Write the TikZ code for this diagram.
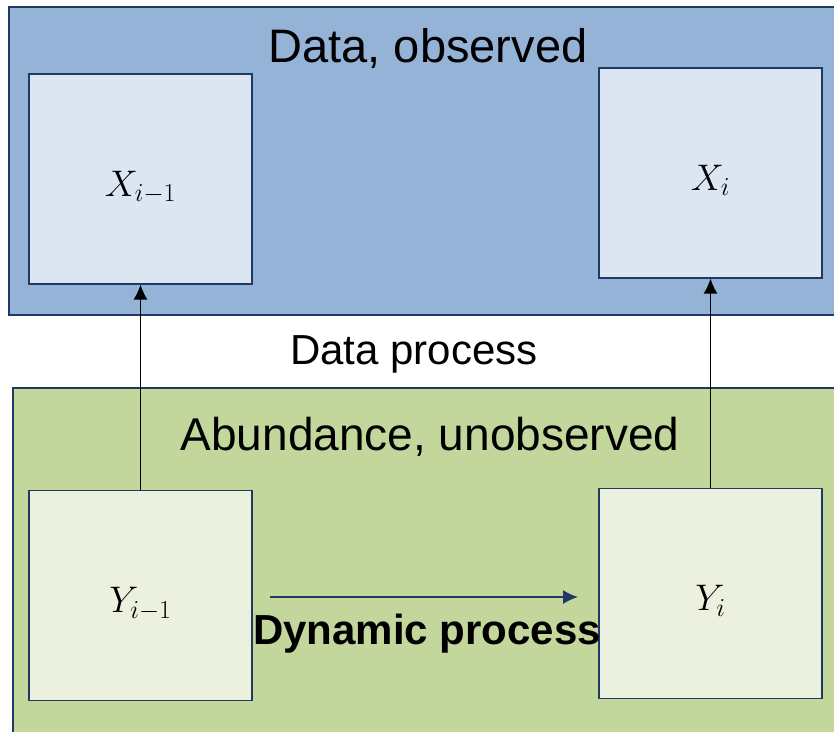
\RequirePackage{fix-cm}
\documentclass[tikz,border=0pt]{standalone}
\usepackage{fontspec}
\setmainfont{Liberation Sans}
\usetikzlibrary{positioning, arrows.meta}

\definecolor{dataFill}{HTML}{95B3D7}
\definecolor{dataBox}{HTML}{DCE6F2}
\definecolor{abunFill}{HTML}{C3D69B}
\definecolor{abunBox}{HTML}{EBF1DE}
\definecolor{edgeBlue}{HTML}{1F3864}

\newcommand{\stateLabel}[1]{\raisebox{-17pt}[0pt][0pt]{$#1$}}

\begin{document}
\begin{tikzpicture}[x=1pt, y=-1pt,
    % --- Styles ---
    layerRect/.style={
      draw=edgeBlue,
      line width=1.2pt
    },
    stateBox/.style={
      draw=edgeBlue,
      rectangle,
      line width=1.2pt,
      minimum width=223pt,
      minimum height=210pt,
      inner sep=0pt,
      font=\fontsize{37}{40}\selectfont
    },
    titleText/.style={
      font=\fontsize{47}{50}\selectfont
    },
    linkArrow/.style={
      line width=1.3pt,
      arrows={-Latex[length=15pt, width=14pt]}
    }
]
\useasboundingbox (0,0) rectangle (834,731);

%=====================
% Layer 1: data, observed
%=====================
\fill[dataFill] (9,7) rectangle (850,315);
\draw[layerRect] (850,7) -- (9,7) -- (9,315) -- (850,315);
\node[titleText] (dataTitle) at (428,48) {Data, observed};
\node[stateBox, fill=dataBox] (xPrev) at (140.5,179) {\stateLabel{X_{i-1}}};
\node[stateBox, fill=dataBox] (xCur) at (710.5,173) {\stateLabel{X_i}};

%=====================
% Layer 2: abundance, unobserved
%=====================
\fill[abunFill] (13,388) rectangle (850,750);
\draw[layerRect] (850,388) -- (13,388) -- (13,750);
\node[titleText, font=\fontsize{46}{50}\selectfont] (abunTitle) at (430,437) {Abundance, unobserved};
\node[stateBox, fill=abunBox] (yPrev) at (140.5,595.5) {\stateLabel{Y_{i-1}}};
\node[stateBox, fill=abunBox] (yCur) at (710.5,593.5) {\stateLabel{Y_i}};

%=====================
% Processes
%=====================
\node[font=\fontsize{42}{46}\selectfont] (dataProc) at (414,354) {Data process};
\draw[linkArrow] (yPrev) -- (xPrev);
\draw[linkArrow] (yCur) -- (xCur);

\coordinate (dynStart) at (270,597);
\coordinate (dynEnd) at (578,597);
\draw[linkArrow, draw=edgeBlue, fill=edgeBlue, line width=1.5pt] (dynStart) -- (dynEnd);
\node[font=\fontsize{42}{46}\selectfont\bfseries] (dynProc) at (427,634) {Dynamic process};

\end{tikzpicture}
\end{document}
